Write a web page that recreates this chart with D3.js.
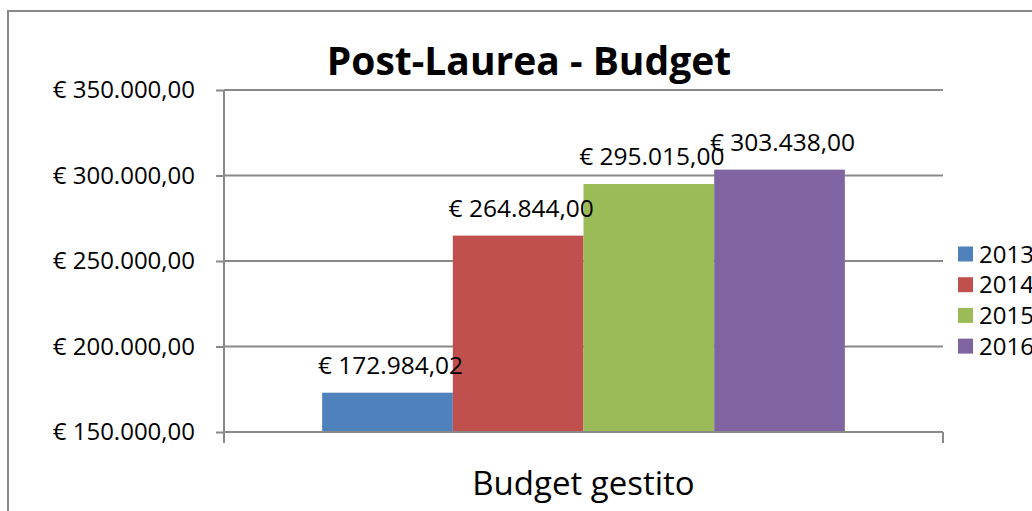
<!DOCTYPE html>
<html lang="it">
<head>
<meta charset="UTF-8">
<title>Post-Laurea - Budget</title>
<style>
  body { margin: 0; background: #fff; }
  svg { display: block; font-family: "Open Sans", sans-serif; }
  .grid line, .axis line { stroke: #898989; stroke-width: 2; }
</style>
</head>
<body>
<svg width="1032" height="511"></svg>
<script src="https://d3js.org/d3.v7.min.js"></script>
<script>
const categories = ["Budget gestito"];
const years = ["2013", "2014", "2015", "2016"];
const budget = [172984.02, 264844.00, 295015.00, 303438.00];
const colors = ["#4f81bd", "#c0504d", "#9bbb59", "#8064a2"];
const yTicks = [150000, 200000, 250000, 300000, 350000];

const svg = d3.select("svg");
const plot = { left: 224, right: 943, top: 90, bottom: 432 };

const it = d3.formatLocale({ decimal: ",", thousands: ".", grouping: [3], currency: ["€ ", ""] });
const euro = v => "€ " + it.format(",.2f")(v);

// chart border (runs off the picture on the right and bottom)
svg.append("rect")
  .attr("x", 8).attr("y", 11).attr("width", 1100).attr("height", 600)
  .attr("fill", "none").attr("stroke", "#898989").attr("stroke-width", 2);

const y = d3.scaleLinear().domain([150000, 350000]).range([plot.bottom, plot.top]);
const gap = 0.273;
const x0 = d3.scaleBand().domain(categories).range([plot.left, plot.right])
  .paddingInner(gap).paddingOuter(gap / 2);
const x1 = d3.scaleBand().domain(years).range([0, x0.bandwidth()]);

// gridlines
svg.append("g").attr("class", "grid")
  .selectAll("line").data(yTicks).join("line")
  .attr("x1", plot.left).attr("x2", plot.right)
  .attr("y1", d => y(d)).attr("y2", d => y(d));

// bars
const group = svg.append("g").attr("transform", `translate(${x0(categories[0])},0)`);
group.selectAll("rect").data(budget).join("rect")
  .attr("x", (d, i) => x1(years[i]))
  .attr("width", x1.bandwidth())
  .attr("y", d => y(d))
  .attr("height", d => y(150000) - y(d))
  .attr("fill", (d, i) => colors[i]);

// y axis
const yAxis = svg.append("g").attr("class", "axis")
  .attr("transform", `translate(${plot.left},0)`)
  .call(d3.axisLeft(y).tickValues(yTicks).tickSize(8).tickPadding(21).tickFormat(euro));
yAxis.select(".domain").remove();
yAxis.append("line").attr("x1", 0).attr("x2", 0).attr("y1", plot.top).attr("y2", plot.bottom + 11);
yAxis.selectAll("text").attr("font-size", 24).attr("fill", "#000").attr("font-family", "Open Sans");

// x axis baseline and right tick
const xAxis = svg.append("g").attr("class", "axis");
xAxis.append("line").attr("x1", plot.left).attr("x2", plot.right)
  .attr("y1", plot.bottom).attr("y2", plot.bottom);
xAxis.append("line").attr("x1", plot.right).attr("x2", plot.right)
  .attr("y1", plot.bottom).attr("y2", plot.bottom + 11);

// data labels
group.selectAll("text").data(budget).join("text")
  .attr("x", (d, i) => x1(years[i]) + x1.bandwidth() / 2 + 3)
  .attr("y", d => y(d) - 19)
  .attr("text-anchor", "middle")
  .attr("font-size", 24.5)
  .text(d => euro(d));

// title
svg.append("text")
  .attr("x", 529).attr("y", 75)
  .attr("text-anchor", "middle")
  .attr("font-size", 39).attr("font-weight", "bold")
  .text("Post-Laurea - Budget");

// category axis title
svg.append("text")
  .attr("x", (plot.left + plot.right) / 2).attr("y", 495)
  .attr("text-anchor", "middle")
  .attr("font-size", 33)
  .text(categories[0]);

// legend
const legend = svg.append("g").attr("transform", "translate(958,254)");
const item = legend.selectAll("g").data(years).join("g")
  .attr("transform", (d, i) => `translate(0,${i * 30.7})`);
item.append("rect").attr("x", 0).attr("y", -7.5).attr("width", 15).attr("height", 15)
  .attr("fill", (d, i) => colors[i]);
item.append("text").attr("x", 21).attr("dy", "0.36em")
  .attr("font-size", 24).text(d => d);
</script>
</body>
</html>
